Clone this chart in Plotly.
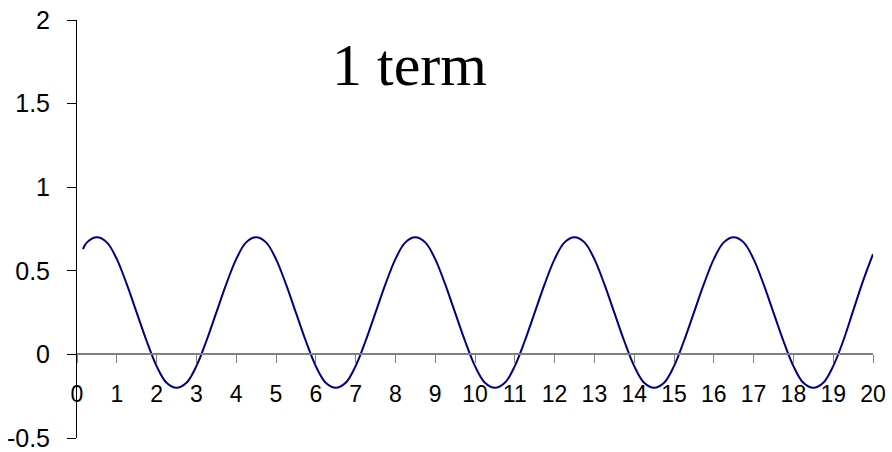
import plotly.graph_objects as go

# Sampled x positions and curve values (one-term partial sum)
x_vals = [0.15] + [round(0.25 * k, 2) for k in range(1, 81)]
y_vals = [
    0.63,
    0.67, 0.70, 0.67, 0.57, 0.42, 0.25, 0.08, -0.07, -0.17, -0.20, -0.17, -0.07, 0.08, 0.25, 0.42, 0.57,
    0.67, 0.70, 0.67, 0.57, 0.42, 0.25, 0.08, -0.07, -0.17, -0.20, -0.17, -0.07, 0.08, 0.25, 0.42, 0.57,
    0.67, 0.70, 0.67, 0.57, 0.42, 0.25, 0.08, -0.07, -0.17, -0.20, -0.17, -0.07, 0.08, 0.25, 0.42, 0.57,
    0.67, 0.70, 0.67, 0.57, 0.42, 0.25, 0.08, -0.07, -0.17, -0.20, -0.17, -0.07, 0.08, 0.25, 0.42, 0.57,
    0.67, 0.70, 0.67, 0.57, 0.42, 0.25, 0.08, -0.07, -0.17, -0.20, -0.17, -0.07, 0.08, 0.26, 0.44, 0.60,
]
x_ticks = list(range(0, 21))
y_ticks = [-0.5, 0, 0.5, 1, 1.5, 2]
y_tick_text = ["-0.5", "0", "0.5", "1", "1.5", "2"]
title_text = "1 term"

fig = go.Figure()
fig.add_trace(go.Scatter(
    x=x_vals, y=y_vals, mode="lines",
    line=dict(color="#000080", width=2, shape="spline", smoothing=1.0),
    hoverinfo="skip", showlegend=False,
))

fig.add_annotation(
    text=title_text, xref="paper", yref="paper", x=0.418, y=0.892,
    xanchor="center", yanchor="middle", showarrow=False,
    font=dict(family="Liberation Serif", size=60, color="#000000"),
)

fig.update_layout(
    width=892, height=452,
    margin=dict(l=77, r=19, t=20, b=14),
    paper_bgcolor="white", plot_bgcolor="white",
    font=dict(family="Liberation Sans, Arial", color="#000000"),
    xaxis=dict(
        range=[0, 20], tickvals=x_ticks, ticktext=[str(t) for t in x_ticks],
        anchor="free", position=0.2, automargin=False,
        showline=True, linecolor="#808080", linewidth=2,
        ticks="outside", ticklen=8, tickcolor="#808080", tickwidth=1,
        showgrid=False, zeroline=False,
        tickfont=dict(size=23), ticklabelstandoff=11,
    ),
    yaxis=dict(
        range=[-0.5, 2], tickvals=y_ticks, ticktext=y_tick_text,
        automargin=False,
        showline=True, linecolor="#000000", linewidth=1,
        ticks="outside", ticklen=9, tickcolor="#000000", tickwidth=1,
        showgrid=False, zeroline=False,
        tickfont=dict(size=25), ticklabelstandoff=12,
    ),
)

fig.write_html("out.html")
